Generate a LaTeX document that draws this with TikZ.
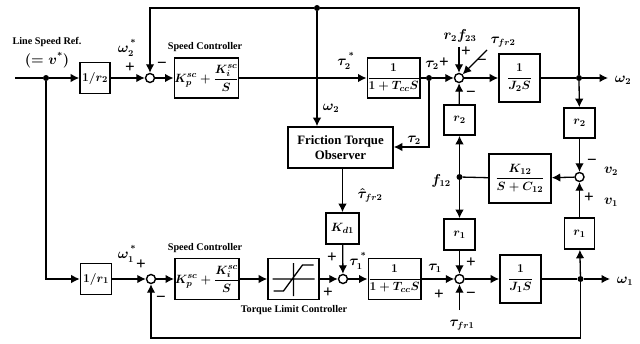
\documentclass[tikz,border=0pt]{standalone}
\usepackage{fontspec}
\setmainfont{Liberation Serif}
\usepackage{amsmath}
\usepackage{tikz}
\usetikzlibrary{arrows.meta}
\newcommand{\upstar}{\raisebox{3pt}{$\scriptstyle *$}}

\begin{document}
\begin{tikzpicture}[
    x=1pt, y=-1pt,
    blockbox/.style={rectangle, draw, line width=1.6pt, inner sep=0pt, align=center, font=\fontsize{13}{15}\selectfont\boldmath},
    sumnode/.style={circle, draw, line width=1.4pt, fill=white, inner sep=0pt, minimum size=9pt},
    dotnode/.style={circle, fill=black, inner sep=0pt, minimum size=6pt},
    wire/.style={line width=1.3pt},
    arrow/.style={-{Latex[length=8.5pt,width=8.5pt]}, line width=1.3pt},
    lab/.style={inner sep=0pt, font=\fontsize{13.5}{15}\selectfont\boldmath},
    signlab/.style={inner sep=0pt, font=\fontsize{17}{18}\selectfont\bfseries},
    caption/.style={inner sep=0pt, font=\fontsize{10.2}{12}\selectfont\bfseries}
]
\useasboundingbox (0,0) rectangle (640,343);

% Top row - omega 2 path
\coordinate (linein) at (15,78);
\node[dotnode] (dotin) at (46,78) {};
\node[blockbox, minimum width=30pt, minimum height=31pt] (rtwoin) at (95,78) {$1/r_2$};
\node[sumnode] (sumtop) at (150,78) {};
\node[blockbox, minimum width=59pt, minimum height=40pt] (pitop) at (206.5,78) {$K_p^{sc}+\dfrac{K_i^{sc}}{S}$};
\node[blockbox, minimum width=51pt, minimum height=40pt] (lagtop) at (393.5,78) {$\dfrac{1}{1+T_{cc}S}$};
\node[dotnode] (dottau) at (429,78) {};
\node[sumnode] (sumtau) at (459,78) {};
\node[blockbox, minimum width=41pt, minimum height=48pt] (jtwo) at (519.5,78) {$\dfrac{1}{J_2S}$};
\node[dotnode] (dotwtwo) at (579,78) {};
\coordinate (outtwo) at (608,78);
\node[dotnode] (dotfb) at (317,8) {};

% Middle - observer and coupling
\node[blockbox, font=\fontsize{12.8}{15}\selectfont\bfseries, minimum width=105pt, minimum height=41pt] (observer) at (340.5,147.5) {Friction Torque\\Observer};
\node[blockbox, minimum width=31pt, minimum height=30pt] (rtwoa) at (459.5,120) {$r_2$};
\node[blockbox, minimum width=31pt, minimum height=30pt] (rtwob) at (579.5,123) {$r_2$};
\node[sumnode] (sumv) at (579.5,177) {};
\node[blockbox, minimum width=62pt, minimum height=49pt] (kc) at (520,178.5) {$\dfrac{K_{12}}{S+C_{12}}$};
\node[dotnode] (dotf) at (459.5,177) {};
\node[blockbox, minimum width=33pt, minimum height=31pt] (kd) at (342.5,228.5) {$K_{d1}$};
\node[blockbox, minimum width=31pt, minimum height=31pt] (ronea) at (459.5,234.5) {$r_1$};
\node[blockbox, minimum width=30pt, minimum height=31pt] (roneb) at (579.5,233.5) {$r_1$};

% Bottom row - omega 1 path
\node[blockbox, minimum width=31pt, minimum height=31pt] (ronein) at (96,279) {$1/r_1$};
\node[sumnode] (sumbot) at (151,279) {};
\node[blockbox, minimum width=60pt, minimum height=41pt] (pibot) at (207,279) {$K_p^{sc}+\dfrac{K_i^{sc}}{S}$};
\node[blockbox, minimum width=51pt, minimum height=41pt] (limiter) at (293.5,279) {};
\node[sumnode] (sumlim) at (343,279) {};
\node[blockbox, minimum width=51pt, minimum height=41pt] (lagbot) at (394.5,279) {$\dfrac{1}{1+T_{cc}S}$};
\node[sumnode] (sumfr) at (459.5,279) {};
\node[blockbox, minimum width=41pt, minimum height=48pt] (jone) at (520.5,279) {$\dfrac{1}{J_1S}$};
\node[dotnode] (dotwone) at (580.5,279) {};
\coordinate (outone) at (610,279);
\coordinate (fbcorner) at (580.5,338);

% Free ends of the disturbance inputs
\coordinate (inftwo) at (459,47);
\coordinate (infrtwo) at (487,50);
\coordinate (infrone) at (459.5,310);

% Limiter curve
\draw[wire, shift={(limiter.center)}] (-21,0) -- (21,0) (0,-16) -- (0,17)
    (-20,12) -- (-10,12) -- (9,-14) -- (20,-14);

% Top row connections
\draw[wire] (linein) -- (dotin);
\draw[arrow] (dotin) -- (rtwoin);
\draw[arrow] (rtwoin) -- (sumtop);
\draw[arrow] (sumtop) -- (pitop);
\draw[arrow] (pitop) -- (lagtop);
\draw[wire] (lagtop) -- (dottau);
\draw[arrow] (dottau) -- (sumtau);
\draw[arrow] (sumtau) -- (jtwo);
\draw[wire] (jtwo) -- (dotwtwo);
\draw[arrow] (dotwtwo) -- (outtwo);
\draw[arrow] (dotfb) -| (sumtop);
\draw[wire] (dotfb) -| (dotwtwo);
\draw[arrow] (dotfb) -- (dotfb |- observer.north);
\draw[arrow] (dottau) |- (observer.east |- 0,147);
\draw[arrow] (inftwo) -- (sumtau);
\draw[arrow] (infrtwo) -- (sumtau);
\draw[arrow] (rtwoa) -- (sumtau);

% Coupling connections
\draw[arrow] (dotwtwo) -- (rtwob);
\draw[arrow] (rtwob) -- (sumv);
\draw[arrow] (roneb) -- (sumv);
\draw[arrow] (sumv) -- (kc);
\draw[wire] (kc) -- (dotf);
\draw[arrow] (dotf) -- (rtwoa);
\draw[arrow] (dotf) -- (ronea);
\draw[arrow] (dotwone) -- (roneb);

% Bottom row connections
\draw[arrow] (dotin) |- (ronein);
\draw[arrow] (ronein) -- (sumbot);
\draw[arrow] (sumbot) -- (pibot);
\draw[arrow] (pibot) -- (limiter);
\draw[arrow] (limiter) -- (sumlim);
\draw[arrow] (sumlim) -- (lagbot);
\draw[arrow] (lagbot) -- (sumfr);
\draw[arrow] (sumfr) -- (jone);
\draw[wire] (jone) -- (dotwone);
\draw[arrow] (dotwone) -- (outone);
\draw[wire] (dotwone) -- (fbcorner);
\draw[arrow] (fbcorner) -| (sumbot);
\draw[arrow] (observer.south -| kd) -- (kd);
\draw[arrow] (kd) -- (sumlim);
\draw[arrow] (ronea) -- (sumfr);
\draw[arrow] (infrone) -- (sumfr);

% Captions
\node[caption] (capline) at (47,42) {Line Speed Ref.};
\node[lab] (capref) at (47,60) {$(=v^{\upstar})$};
\node[caption] (capsptop) at (205,47) {Speed Controller};
\node[caption] (capspbot) at (205,248) {Speed Controller};
\node[caption] (caplim) at (294,310) {Torque Limit Controller};

% Signal labels
\node[lab] (lwtwo) at (127,48) {$\omega_2^{\,\upstar}$};
\node[lab] (lwone) at (127,254) {$\omega_1^{\,\upstar}$};
\node[lab] (ltstar) at (346,61) {$\tau_2^{\,\upstar}$};
\node[lab] (ltone) at (358,261) {$\tau_1^{\,\upstar}$};
\node[lab] (ltaua) at (432,65) {$\tau_2$};
\node[lab] (ltaub) at (414,140) {$\tau_2$};
\node[lab] (ltauc) at (435,268) {$\tau_1$};
\node[lab] (lwobs) at (331,108) {$\omega_2$};
\node[lab] (lhat) at (370,195) {$\hat{\tau}_{fr2}$};
\node[lab] (lrf) at (460,36) {$r_2f_{23}$};
\node[lab] (lfrtwo) at (503,42) {$\tau_{fr2}$};
\node[lab] (lfrone) at (462,325) {$\tau_{fr1}$};
\node[lab] (lf) at (441,181) {$f_{12}$};
\node[lab] (lvtwo) at (611,171) {$v_2$};
\node[lab] (lvone) at (611,202) {$v_1$};
\node[lab] (loutt) at (623,80) {$\omega_2$};
\node[lab] (louto) at (625,281) {$\omega_1$};

% Signs
\node[signlab] (sa) at (130,68) {+};
\node[signlab] (sb) at (162,65) {−};
\node[signlab] (sc) at (444,63) {+};
\node[signlab] (sd) at (466,52) {+};
\node[signlab] (se) at (482,62) {−};
\node[signlab] (sf) at (471,94) {−};
\node[signlab] (sg) at (592,162) {−};
\node[signlab] (sh) at (589,198) {+};
\node[signlab] (si) at (141,265) {+};
\node[signlab] (sj) at (161,299) {−};
\node[signlab] (sk) at (332,258) {+};
\node[signlab] (sl) at (328,293) {+};
\node[signlab] (sm) at (471,263) {+};
\node[signlab] (sn) at (439,295) {+};
\node[signlab] (so) at (471,295) {−};

\end{tikzpicture}
\end{document}
